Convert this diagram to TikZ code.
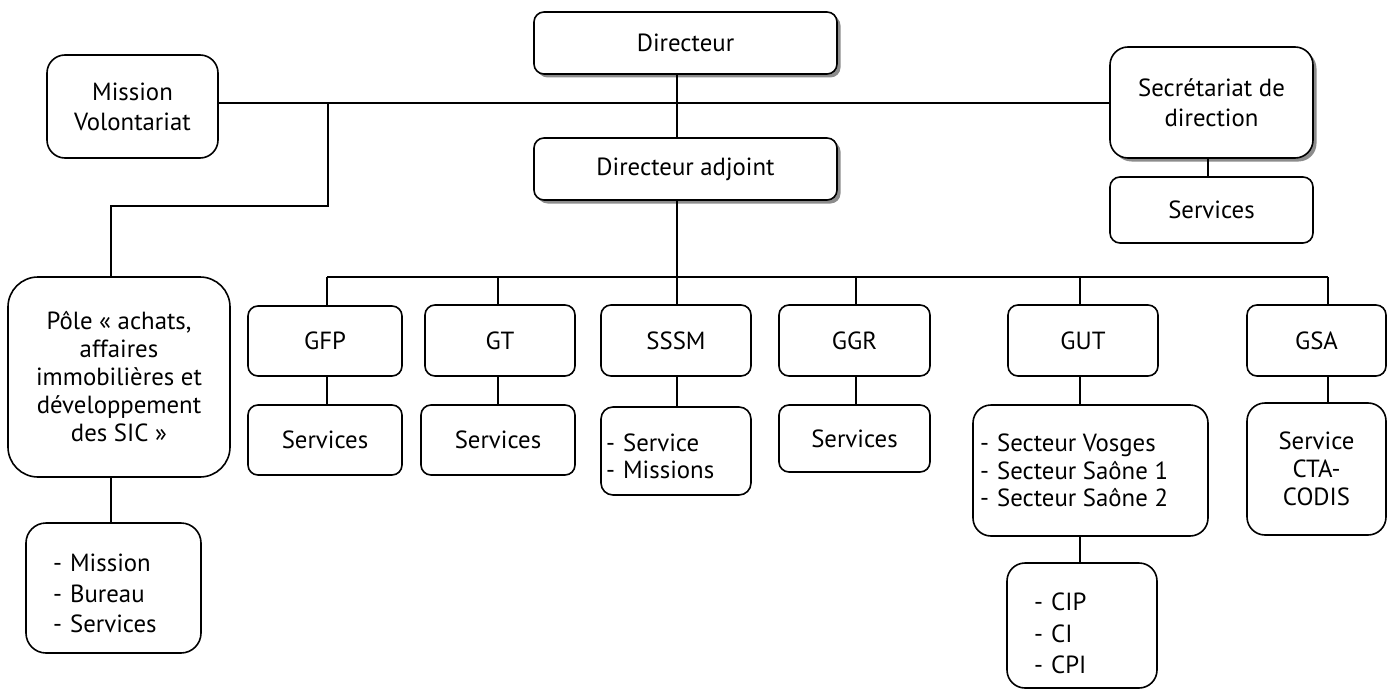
\documentclass[tikz,border=0pt]{standalone}
\usepackage{fontspec}
\setmainfont{PT Sans}
\usetikzlibrary{shadows}
\tikzset{
  box/.style={draw=black, line width=1.6pt, rounded corners=10pt, fill=white, inner sep=0pt, align=center,
    font=\fontsize{24.8}{28}\selectfont},
  shbox/.style={box, drop shadow={shadow xshift=3.5pt, shadow yshift=-3.5pt, fill=black!45, opacity=1}},
  lst/.style={anchor=west, inner sep=0pt, align=left},
  conn/.style={draw=black, line width=1.6pt}
}
\begin{document}
\begin{tikzpicture}[x=1pt,y=-1pt]
\useasboundingbox (0,0) rectangle (1389,690);
% top
\node[shbox, minimum width=303pt, minimum height=62pt] (dir) at (685.5,43) {Directeur};
\node[shbox, minimum width=303pt, minimum height=62pt] (adj) at (685.5,169) {Directeur adjoint};
\node[box, rounded corners=18pt, minimum width=171pt, minimum height=103pt, font=\fontsize{24.8}{30}\selectfont] (mv) at (132.5,106.5) {Mission\\Volontariat};
\node[shbox, rounded corners=18pt, minimum width=203pt, minimum height=111pt, font=\fontsize{24.8}{30}\selectfont] (sec) at (1211.5,102.5) {Secrétariat de\\direction};
\node[box, minimum width=203pt, minimum height=66pt] (secsv) at (1211.5,210) {Services};
% pole
\node[box, rounded corners=30pt, minimum width=222pt, minimum height=200pt] (pole) at (119,377) {Pôle «~achats,\\affaires\\immobilières et\\développement\\des SIC~»};
\node[box, rounded corners=20pt, minimum width=175pt, minimum height=130pt] (polesub) at (113.5,588) {};
\node[lst, font=\fontsize{24.8}{30.5}\selectfont] at (53,593.5) {-\hspace{8pt}Mission\\-\hspace{8pt}Bureau\\-\hspace{8pt}Services};
% row
\node[box, minimum width=154pt, minimum height=70pt] (gfp) at (325,341) {GFP};
\node[box, minimum width=154pt, minimum height=70pt] (gfpsv) at (325,440) {Services};
\node[box, minimum width=150pt, minimum height=71pt] (gt) at (500,340.5) {GT};
\node[box, minimum width=154pt, minimum height=70pt] (gtsv) at (498,440) {Services};
\node[box, minimum width=150pt, minimum height=71pt] (sssm) at (676,340.5) {SSSM};
\node[box, rounded corners=12pt, minimum width=150pt, minimum height=88pt] (sssmsub) at (676,451) {};
\node[lst, font=\fontsize{24.8}{27}\selectfont] at (606,456.5) {-\hspace{8pt}Service\\-\hspace{8pt}Missions};
\node[box, minimum width=151pt, minimum height=71pt] (ggr) at (854.5,340.5) {GGR};
\node[box, minimum width=151pt, minimum height=67pt] (ggrsv) at (854.5,438.5) {Services};
\node[box, minimum width=150pt, minimum height=71pt] (gut) at (1083,340.5) {GUT};
\node[box, rounded corners=18pt, minimum width=235pt, minimum height=131pt] (gutsub) at (1090.5,470.5) {};
\node[lst, font=\fontsize{24.8}{27.5}\selectfont] at (980,470.5) {-\hspace{8pt}Secteur Vosges\\-\hspace{8pt}Secteur Saône 1\\-\hspace{8pt}Secteur Saône 2};
\node[box, rounded corners=18pt, minimum width=150pt, minimum height=125pt] (gutcip) at (1082,625.5) {};
\node[lst, font=\fontsize{24.8}{31.5}\selectfont] at (1034,633.5) {-\hspace{8pt}CIP\\-\hspace{8pt}CI\\-\hspace{8pt}CPI};
\node[box, minimum width=139pt, minimum height=71pt] (gsa) at (1316.5,340.5) {GSA};
\node[box, rounded corners=18pt, minimum width=139pt, minimum height=132pt] (gsasub) at (1316.5,469) {Service\\CTA-\\CODIS};
% coordinates
\coordinate (trunk) at (677,103);
\coordinate (bus) at (677,277);
\coordinate (br) at (328,103);
\coordinate (brl) at (328,206);
\coordinate (pl) at (111,206);
% connectors
\draw[conn] (dir.south -| trunk) -- (adj.north -| trunk);
\draw[conn] (mv.east |- trunk) -- (sec.west |- trunk);
\draw[conn] (br) -- (brl) -- (pl) -- (pole.north -| pl);
\draw[conn] (pole.south -| pl) -- (polesub.north -| pl);
\draw[conn] (sec.south -| 1208,0) -- (secsv.north -| 1208,0);
\draw[conn] (adj.south -| bus) -- (bus);
\draw[conn] (327,277) -- (1328,277);
\draw[conn] (gfp.north -| 327,0) -- (327,277);
\draw[conn] (gt.north -| 498,0) -- (498,277);
\draw[conn] (sssm.north -| bus) -- (bus);
\draw[conn] (ggr.north -| 856,0) -- (856,277);
\draw[conn] (gut.north -| 1080,0) -- (1080,277);
\draw[conn] (gsa.north -| 1328,0) -- (1328,277);
\draw[conn] (gfp.south -| 327,0) -- (gfpsv.north -| 327,0);
\draw[conn] (gt.south -| 498,0) -- (gtsv.north -| 498,0);
\draw[conn] (sssm.south -| bus) -- (sssmsub.north -| bus);
\draw[conn] (ggr.south -| 856,0) -- (ggrsv.north -| 856,0);
\draw[conn] (gut.south -| 1080,0) -- (gutsub.north -| 1080,0);
\draw[conn] (gutsub.south -| 1080,0) -- (gutcip.north -| 1080,0);
\draw[conn] (gsa.south -| 1328,0) -- (gsasub.north -| 1328,0);
\end{tikzpicture}
\end{document}
